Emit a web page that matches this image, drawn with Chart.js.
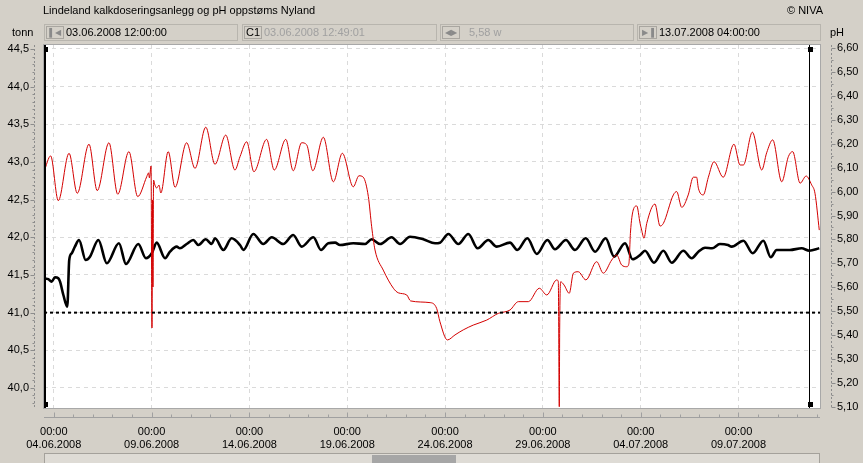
<!DOCTYPE html>
<html>
<head>
<meta charset="utf-8">
<script src="https://cdn.jsdelivr.net/npm/chart.js@4.4.1/dist/chart.umd.min.js"></script>
<style>
  body { margin: 0; background: #D4D0C8; font-family: "Liberation Sans", Arial, sans-serif; font-size: 11px; color: #000; }
  #wrap { position: relative; width: 863px; height: 463px; overflow: hidden; }
  canvas { position: absolute; left: 0; top: 0; }
  .t { position: absolute; white-space: nowrap; line-height: 13px; }
  .box { position: absolute; top: 24px; height: 17px; border: 1px solid #B8B5AE; box-sizing: border-box; }
  .btn { position: absolute; left: 1px; top: 1px; width: 18px; height: 13px; border: 1px solid #A9A6A0; box-sizing: border-box;
         font-size: 8px; line-height: 11px; text-align: center; color: #8A8A8A; }
  .box .v { position: absolute; left: 21px; top: 1px; line-height: 13px; font-size: 11px; }
  .grey { color: #A0A0A0; }
  #scroll { position: absolute; left: 44px; top: 453px; width: 776px; height: 12px; border: 1px solid #A4A19B; box-sizing: border-box; background: #DEDBD5; }
  #thumb { position: absolute; left: 327px; top: 1px; width: 84px; height: 10px; background: #A6A6A6; }
</style>
</head>
<body>
<div id="wrap">
  <canvas id="c" width="863" height="463"></canvas>
  <div class="t" style="left:43px;top:4px;">Lindeland kalkdoseringsanlegg og pH oppstøms Nyland</div>
  <div class="t" style="left:787px;top:4px;">© NIVA</div>
  <div class="t" style="left:12px;top:26px;">tonn</div>
  <div class="t" style="left:830px;top:26px;">pH</div>
  <div class="box" style="left:44px;width:194px;"><div class="btn">▌◀</div><div class="v">03.06.2008 12:00:00</div></div>
  <div class="box" style="left:242px;width:195px;"><div class="btn" style="color:#000;font-size:11px;">C1</div><div class="v grey">03.06.2008 12:49:01</div></div>
  <div class="box" style="left:440px;width:194px;"><div class="btn">◀▶</div><div class="v grey" style="left:28px;">5,58 w</div></div>
  <div class="box" style="left:637px;width:184px;"><div class="btn">▶▐</div><div class="v">13.07.2008 04:00:00</div></div>
  <div id="scroll"><div id="thumb"></div></div>
</div>
<script>
// time axis: days since 03.06.2008 12:00
const tStart = 0;
const tEnd = 39.667;
const xTickTimes = [0.5, 5.5, 10.5, 15.5, 20.5, 25.5, 30.5, 35.5];
const xTickDates = ["04.06.2008", "09.06.2008", "14.06.2008", "19.06.2008", "24.06.2008", "29.06.2008", "04.07.2008", "09.07.2008"];
const xTickHours = ["00:00", "00:00", "00:00", "00:00", "00:00", "00:00", "00:00", "00:00"];

const leftTicks = [40.0, 40.5, 41.0, 41.5, 42.0, 42.5, 43.0, 43.5, 44.0, 44.5];
const rightTicks = [5.10, 5.20, 5.30, 5.40, 5.50, 5.60, 5.70, 5.80, 5.90, 6.00, 6.10, 6.20, 6.30, 6.40, 6.50, 6.60];

// pH (red, right axis)
const phTimes = [
  0, 0.34, 0.73, 1.28, 1.70, 2.30, 2.72, 3.32, 3.77, 4.34,
  4.79, 5.25, 5.34, 5.39, 5.47, 5.52, 5.55, 5.57, 5.60, 5.67,
  5.76, 5.88, 5.97, 6.35, 6.70, 7.29, 7.72, 8.27, 8.74, 9.29,
  9.76, 10.02, 10.36, 10.73, 11.38, 11.77, 12.36, 12.74, 13.17, 13.43,
  13.74, 14.28, 14.79, 15.25, 15.81, 16.10, 16.32, 16.58, 16.75, 16.92,
  17.34, 17.86, 18.11, 18.54, 18.74, 19.73, 20.07, 20.24, 20.62, 21.01,
  21.43, 21.94, 22.63, 23.22, 23.82, 24.25, 24.76, 25.32, 25.70, 26.21,
  26.29, 26.34, 26.36, 26.41, 26.58, 26.85, 27.06, 27.31, 27.70, 28.25,
  28.59, 29.02, 29.27, 29.53, 29.79, 29.90, 29.98, 30.12, 30.30, 30.47,
  30.55, 30.67, 30.81, 31.23, 31.49, 31.66, 32.17, 32.34, 32.60, 32.93,
  33.19, 33.36, 33.45, 33.70, 33.96, 34.25, 34.72, 35.27, 35.58, 35.75,
  36.21, 36.69, 36.94, 37.25, 37.71, 38.05, 38.27, 38.65, 38.96, 39.24,
  39.41, 39.63
];
const phValues = [
  6.083, 6.149, 5.962, 6.160, 5.993, 6.198, 6.004, 6.204, 5.989, 6.167,
  5.979, 6.062, 6.078, 6.057, 6.107, 5.430, 5.965, 5.601, 6.048, 6.027,
  6.015, 6.027, 5.994, 6.167, 6.018, 6.204, 6.097, 6.269, 6.114, 6.236,
  6.090, 6.146, 6.208, 6.083, 6.218, 6.090, 6.218, 6.087, 6.204, 6.195,
  6.087, 6.227, 6.041, 6.160, 6.020, 6.066, 6.060, 5.979, 5.853, 5.756,
  5.672, 5.596, 5.577, 5.568, 5.543, 5.536, 5.512, 5.456, 5.380, 5.401,
  5.422, 5.442, 5.463, 5.491, 5.505, 5.540, 5.540, 5.596, 5.568, 5.631,
  5.623, 5.101, 5.422, 5.623, 5.610, 5.575, 5.659, 5.665, 5.631, 5.707,
  5.659, 5.714, 5.735, 5.693, 5.686, 5.700, 5.831, 5.923, 5.940, 5.867,
  5.839, 5.805, 5.867, 5.948, 5.856, 5.867, 5.986, 6.000, 5.934, 5.986,
  6.060, 6.060, 6.014, 5.986, 6.060, 6.125, 6.060, 6.198, 6.111, 6.111,
  6.248, 6.090, 6.162, 6.216, 6.041, 6.146, 6.167, 6.035, 6.065, 6.028,
  5.993, 5.839
];

// tonn (black, left axis)
const tonnTimes = [
  0, 0.05, 0.20, 0.39, 0.56, 0.73, 0.82, 0.99, 1.19, 1.29,
  1.42, 1.58, 1.79, 2.13, 2.35, 2.78, 3.21, 3.83, 4.19, 4.82,
  5.21, 5.51, 5.76, 6.19, 6.44, 6.78, 6.95, 7.29, 7.63, 7.89,
  8.27, 8.57, 8.74, 9.17, 9.59, 10.02, 10.19, 10.70, 11.21, 11.64,
  12.23, 12.74, 13.17, 13.77, 14.16, 14.53, 14.88, 15.13, 15.81, 16.41,
  16.75, 17.18, 17.77, 18.20, 18.71, 19.39, 19.99, 20.24, 20.67, 21.18,
  21.69, 22.17, 22.71, 23.14, 23.82, 24.19, 24.71, 25.19, 25.73, 26.12,
  26.68, 27.14, 27.69, 28.17, 28.71, 29.14, 29.70, 30.09, 30.47, 30.72,
  31.18, 31.66, 32.09, 32.68, 33.11, 33.45, 33.79, 34.15, 34.55, 34.96,
  35.15, 35.75, 36.23, 36.77, 37.15, 37.45, 38.13, 38.73, 39.12, 39.63
];
const tonnValues = [
  41.566, 41.456, 41.447, 41.411, 41.469, 41.456, 41.411, 41.234, 41.079, 41.699,
  41.788, 41.876, 41.964, 41.699, 41.743, 41.964, 41.655, 41.921, 41.646, 41.911,
  41.722, 41.788, 41.929, 41.722, 41.809, 41.876, 41.854, 41.911, 41.964, 41.898,
  41.974, 41.911, 41.987, 41.832, 41.987, 41.898, 41.832, 42.044, 41.911, 42.000,
  41.911, 42.031, 41.876, 42.000, 41.832, 41.921, 41.929, 41.898, 41.921, 41.911,
  41.974, 41.911, 42.000, 41.911, 42.008, 41.974, 41.921, 41.929, 42.044, 41.911,
  42.044, 41.854, 41.964, 41.876, 41.929, 41.832, 41.987, 41.779, 41.964, 41.841,
  41.964, 41.832, 41.987, 41.809, 41.987, 41.743, 41.921, 41.708, 41.765, 41.822,
  41.663, 41.822, 41.663, 41.822, 41.722, 41.809, 41.862, 41.854, 41.911, 41.898,
  41.876, 41.955, 41.788, 41.955, 41.735, 41.832, 41.832, 41.854, 41.822, 41.854
];

const limitTonn = 41.0;            // dotted reference line (= pH 5,50)
const cursorTimes = [0.034, 39.10];  // C1 and C2
const cursorWidths = [2, 1];

const pairs = (xs, ys) => xs.map((x, i) => ({ x, y: ys[i] }));
const comma = (v, d) => v.toFixed(d).replace(".", ",");

Chart.defaults.font.family = '"Liberation Sans", Arial, sans-serif';
Chart.defaults.font.size = 11;
Chart.defaults.color = "#000";

// white plot area, axis rules with small ticks, frame and cursors
const decor = {
  id: "decor",
  beforeDraw(c) {
    const { ctx, chartArea: a } = c;
    ctx.save();
    ctx.fillStyle = "#fff";
    ctx.fillRect(a.left, a.top, a.right - a.left, a.bottom - a.top);
    ctx.restore();
  },
  afterDatasetsDraw(c) {
    const { ctx, chartArea: a, scales } = c;
    ctx.save();
    cursorTimes.forEach((t, i) => {
      const x = Math.round(scales.x.getPixelForValue(t)) + (cursorWidths[i] % 2 ? 0.5 : 0);
      ctx.strokeStyle = "#000";
      ctx.lineWidth = cursorWidths[i];
      ctx.beginPath();
      ctx.moveTo(x, a.top);
      ctx.lineTo(x, a.bottom);
      ctx.stroke();
      ctx.fillStyle = "#000";
      ctx.fillRect(Math.round(x) - 2, a.top + 2, 5, 5);
      ctx.fillRect(Math.round(x) - 2, a.bottom - 6, 5, 5);
    });
    ctx.restore();
  },
  afterDraw(c) {
    const { ctx, chartArea: a, scales } = c;
    ctx.save();
    ctx.strokeStyle = "#A8A8A8";
    ctx.lineWidth = 1;
    ctx.strokeRect(a.left - 0.5, a.top - 0.5, a.right - a.left + 1, a.bottom - a.top + 1);

    ctx.strokeStyle = "#8C8C8C";
    // left rule
    const lx = a.left - 9.5;
    ctx.setLineDash([2, 2]);
    ctx.beginPath(); ctx.moveTo(lx, a.top); ctx.lineTo(lx, a.bottom); ctx.stroke();
    ctx.setLineDash([]);
    for (let i = 398; i <= 445; i++) {
      const y = Math.round(scales.y.getPixelForValue(i / 10)) + 0.5;
      const len = i % 5 === 0 ? 4 : 2;
      ctx.beginPath(); ctx.moveTo(lx, y); ctx.lineTo(lx - len, y); ctx.stroke();
    }
    // right rule
    const rx = a.right + 11.5;
    ctx.setLineDash([2, 2]);
    ctx.beginPath(); ctx.moveTo(rx, a.top); ctx.lineTo(rx, a.bottom); ctx.stroke();
    ctx.setLineDash([]);
    for (let i = 102; i <= 132; i++) {
      const y = Math.round(scales.y2.getPixelForValue(i / 20)) + 0.5;
      const len = i % 2 === 0 ? 4 : 2;
      ctx.beginPath(); ctx.moveTo(rx, y); ctx.lineTo(rx + len, y); ctx.stroke();
    }
    // time rule with daily ticks
    const by = a.bottom + 9.5;
    ctx.strokeStyle = "#A0A0A0";
    ctx.beginPath(); ctx.moveTo(a.left, by); ctx.lineTo(a.right, by); ctx.stroke();
    for (let d = 0; d <= 39; d++) {
      const x = Math.round(scales.x.getPixelForValue(0.5 + d)) + 0.5;
      const len = d % 5 === 0 ? 5 : 3;
      ctx.beginPath(); ctx.moveTo(x, by); ctx.lineTo(x, by - len); ctx.stroke();
    }
    ctx.restore();
  }
};

new Chart(document.getElementById("c"), {
  type: "line",
  data: {
    datasets: [
      {
        label: "limit",
        data: [{ x: tStart, y: limitTonn }, { x: tEnd, y: limitTonn }],
        yAxisID: "y",
        borderColor: "#000",
        borderWidth: 2,
        borderDash: [3, 3],
        pointRadius: 0
      },
      {
        label: "pH",
        data: pairs(phTimes, phValues),
        yAxisID: "y2",
        borderColor: "#D40000",
        borderWidth: 1,
        pointRadius: 0,
        cubicInterpolationMode: "monotone"
      },
      {
        label: "tonn",
        data: pairs(tonnTimes, tonnValues),
        yAxisID: "y",
        borderColor: "#000",
        borderWidth: 2.6,
        pointRadius: 0,
        cubicInterpolationMode: "monotone"
      }
    ]
  },
  options: {
    responsive: false,
    animation: false,
    layout: { padding: { top: 45, left: 0, right: 0, bottom: 0 } },
    plugins: { legend: { display: false }, tooltip: { enabled: false } },
    scales: {
      x: {
        type: "linear",
        min: tStart,
        max: tEnd,
        afterFit(s) { s.height = 55; },
        afterBuildTicks(s) { s.ticks = xTickTimes.map(v => ({ value: v })); },
        ticks: {
          autoSkip: false,
          maxRotation: 0,
          padding: 17,
          callback: (v, i) => [xTickHours[i], xTickDates[i]]
        },
        grid: { color: "#DADADA", drawTicks: false },
        border: { display: false, dash: [4, 4] }
      },
      y: {
        position: "left",
        min: 39.734,
        max: 44.553,
        afterFit(s) { s.width = 44; },
        afterBuildTicks(s) { s.ticks = leftTicks.map(v => ({ value: v })); },
        ticks: { padding: 15, callback: v => comma(v, 1) },
        grid: { color: "#DADADA", drawTicks: false },
        border: { display: false, dash: [4, 4] }
      },
      y2: {
        position: "right",
        min: 5.0956,
        max: 6.6125,
        afterFit(s) { s.width = 43; },
        afterBuildTicks(s) { s.ticks = rightTicks.map(v => ({ value: v })); },
        ticks: { padding: 17, callback: v => comma(v, 2) },
        grid: { display: false, drawTicks: false },
        border: { display: false }
      }
    }
  },
  plugins: [decor]
});
</script>
</body>
</html>
